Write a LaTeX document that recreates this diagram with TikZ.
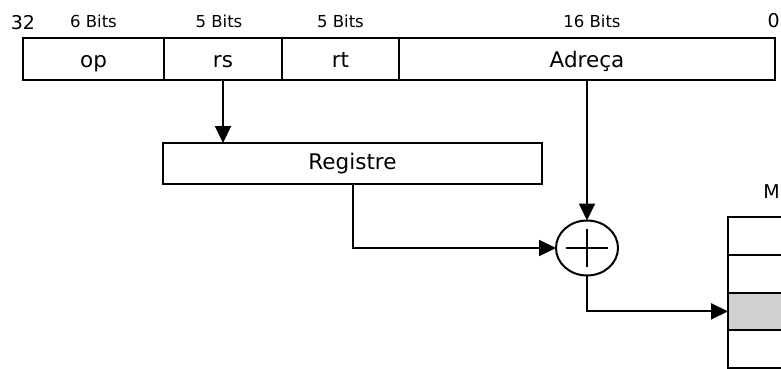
\documentclass[tikz,border=0pt]{standalone}
\usepackage{fontspec}
\setmainfont{DejaVu Sans}
\usetikzlibrary{arrows.meta,positioning,shapes.geometric}
\definecolor{InsInk}{HTML}{000000}
\definecolor{InsGray}{HTML}{D0D0D0}
\tikzset{
  insbox/.style={
    draw=InsInk,
    fill=white,
    line width=2pt,
    outer sep=0pt,
    inner sep=0pt,
    minimum height=42pt,
    text height=19pt,
    text depth=3pt,
    font=\fontsize{21.5}{25}\selectfont
  },
  insbits/.style={
    anchor=base,
    inner sep=0pt,
    font=\fontsize{16.5}{20}\selectfont
  },
  insmem/.style={
    draw=InsInk,
    fill=white,
    line width=2pt,
    outer sep=0pt,
    minimum width=100pt,
    minimum height=37.75pt
  },
  inssum/.style={
    draw=InsInk,
    ellipse,
    line width=2pt,
    inner sep=0pt,
    outer sep=0pt,
    minimum width=62pt,
    minimum height=55pt
  },
  insflow/.style={-{Triangle[length=17pt,width=16pt]},draw=InsInk,line width=2pt},
  insline/.style={draw=InsInk,line width=2pt}
}

\begin{document}
\begin{tikzpicture}[x=1pt,y=-1pt]
  \useasboundingbox (0,0) rectangle (781,369);
  \clip (0,0) rectangle (781,369);
  % instruction word
  \node[insbox,minimum width=141pt] (op) at (93.5,59) {op};
  \node[insbox,right=0pt of op,minimum width=118pt] (rs) {rs};
  \node[insbox,right=0pt of rs,minimum width=117pt] (rt) {rt};
  \node[insbox,right=0pt of rt,minimum width=376pt] (adr) {Adreça};
  \node[insbits] (bop) at ([yshift=10pt]op.north) {6 Bits};
  \node[insbits] (brs) at ([yshift=10pt,xshift=-4pt]rs.north) {5 Bits};
  \node[insbits] (brt) at ([yshift=10pt]rt.north) {5 Bits};
  \node[insbits] (badr) at ([yshift=10pt,xshift=5pt]adr.north) {16 Bits};
  \node[insbits,font=\fontsize{19}{22}\selectfont] (msb) at ([yshift=8pt]op.north west) {32};
  \node[insbits,anchor=base east,font=\fontsize{19}{22}\selectfont] (lsb) at ([yshift=10pt,xshift=5pt]adr.north east) {0};
  % register and adder
  \node[insbox,minimum width=379pt,minimum height=41pt,text height=15pt,text depth=4pt] (reg) at (352.5,163.5) {Registre};
  \node[inssum] (sum) at (587,248) {};
  \draw[insline] ([xshift=-21pt]sum.center) -- ([xshift=21pt]sum.center);
  \draw[insline] ([yshift=19pt]sum.center) -- ([yshift=-19pt]sum.center);
  % memory
  \node[insmem,anchor=north west] (mem1) at (728,217) {};
  \node[insmem,below=0pt of mem1] (mem2) {};
  \node[insmem,below=0pt of mem2,fill=InsGray] (mem3) {};
  \node[insmem,below=0pt of mem3] (mem4) {};
  \node[insbits,anchor=base east,font=\fontsize{19}{22}\selectfont] (memlbl) at (780,198) {M};
  % connections
  \draw[insflow] (rs.south) -- (rs.south |- reg.north);
  \draw[insflow] (adr.south) -- (sum.north);
  \draw[insflow] (reg.south) |- (sum.west);
  \draw[insflow] (sum.south) |- (mem3.west);
\end{tikzpicture}
\end{document}
